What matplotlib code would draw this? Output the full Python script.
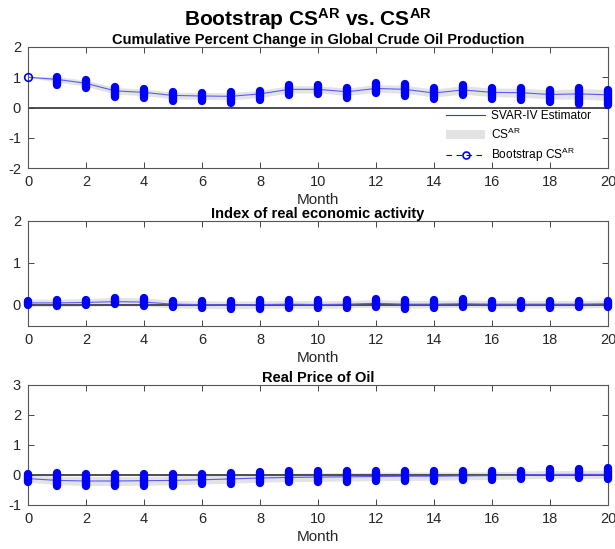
import matplotlib
matplotlib.use("Agg")
import matplotlib.pyplot as plt
from matplotlib.lines import Line2D
from matplotlib.patches import Patch
import numpy as np

plt.rcParams['font.family'] = ['Liberation Sans', 'DejaVu Sans']
plt.rcParams['axes.unicode_minus'] = False
plt.rcParams['mathtext.default'] = 'regular'

months = list(range(21))

# Panel 1: Cumulative Percent Change in Global Crude Oil Production
est1 = [1.0, 0.93, 0.80, 0.55, 0.50, 0.40, 0.38, 0.37, 0.45, 0.60, 0.60, 0.52, 0.63, 0.60, 0.48, 0.58, 0.50, 0.49, 0.43, 0.45, 0.42]
band1_lo = [1.0, 0.84, 0.70, 0.44, 0.39, 0.29, 0.27, 0.25, 0.33, 0.48, 0.48, 0.40, 0.50, 0.47, 0.35, 0.44, 0.36, 0.34, 0.28, 0.28, 0.24]
band1_hi = [1.0, 1.02, 0.90, 0.66, 0.61, 0.51, 0.49, 0.49, 0.57, 0.72, 0.72, 0.64, 0.76, 0.73, 0.61, 0.72, 0.64, 0.64, 0.58, 0.62, 0.60]
boot1_lo = [1.0, 0.74, 0.63, 0.35, 0.33, 0.22, 0.20, 0.14, 0.25, 0.41, 0.43, 0.33, 0.47, 0.39, 0.27, 0.41, 0.27, 0.25, 0.19, 0.13, 0.07]
boot1_hi = [1.0, 1.01, 0.90, 0.68, 0.60, 0.51, 0.49, 0.50, 0.55, 0.73, 0.74, 0.65, 0.81, 0.78, 0.63, 0.76, 0.65, 0.63, 0.58, 0.65, 0.59]

# Panel 2: Index of real economic activity
est2 = [0.05, 0.05, 0.06, 0.08, 0.07, 0.02, 0.01, 0.00, 0.01, 0.02, 0.01, 0.02, 0.04, 0.02, 0.02, 0.03, 0.02, 0.02, 0.02, 0.02, 0.03]
band2_lo = [-0.04, -0.04, -0.03, -0.02, -0.03, -0.07, -0.08, -0.09, -0.08, -0.07, -0.08, -0.07, -0.05, -0.07, -0.07, -0.06, -0.07, -0.07, -0.07, -0.07, -0.06]
band2_hi = [0.14, 0.14, 0.15, 0.18, 0.17, 0.11, 0.10, 0.09, 0.10, 0.11, 0.10, 0.11, 0.13, 0.11, 0.11, 0.12, 0.11, 0.11, 0.11, 0.11, 0.12]
boot2_lo = [0.00, -0.03, 0.00, 0.02, -0.02, -0.05, -0.08, -0.09, -0.09, -0.07, -0.06, -0.06, -0.05, -0.09, -0.06, -0.04, -0.06, -0.07, -0.06, -0.05, -0.05]
boot2_hi = [0.10, 0.13, 0.13, 0.17, 0.16, 0.10, 0.09, 0.09, 0.12, 0.12, 0.11, 0.12, 0.14, 0.11, 0.12, 0.14, 0.09, 0.09, 0.09, 0.09, 0.10]

# Panel 3: Real Price of Oil
est3 = [-0.12, -0.18, -0.20, -0.20, -0.19, -0.18, -0.16, -0.13, -0.10, -0.08, -0.07, -0.06, -0.05, -0.04, -0.04, -0.03, -0.02, 0.00, 0.02, 0.02, 0.02]
band3_lo = [-0.24, -0.32, -0.35, -0.35, -0.34, -0.33, -0.30, -0.27, -0.24, -0.22, -0.21, -0.20, -0.19, -0.18, -0.18, -0.16, -0.15, -0.13, -0.11, -0.11, -0.12]
band3_hi = [0.00, -0.04, -0.05, -0.05, -0.04, -0.03, -0.02, 0.01, 0.04, 0.06, 0.07, 0.08, 0.09, 0.10, 0.10, 0.10, 0.11, 0.13, 0.15, 0.15, 0.16]
boot3_lo = [-0.24, -0.35, -0.38, -0.38, -0.36, -0.36, -0.29, -0.29, -0.25, -0.24, -0.23, -0.24, -0.21, -0.19, -0.20, -0.17, -0.15, -0.13, -0.10, -0.10, -0.13]
boot3_hi = [0.02, 0.08, 0.04, 0.04, 0.02, 0.02, 0.03, 0.07, 0.09, 0.12, 0.14, 0.14, 0.15, 0.15, 0.14, 0.12, 0.12, 0.15, 0.21, 0.21, 0.24]

titles = ['Cumulative Percent Change in Global Crude Oil Production',
          'Index of real economic activity',
          'Real Price of Oil']
ylims = [(-2, 2), (-0.5, 2), (-1, 3)]
yticks = [[-2, -1, 0, 1, 2], [0, 1, 2], [-1, 0, 1, 2, 3]]
xticks = list(range(0, 21, 2))

panels = [
    (est1, band1_lo, band1_hi, boot1_lo, boot1_hi),
    (est2, band2_lo, band2_hi, boot2_lo, boot2_hi),
    (est3, band3_lo, band3_hi, boot3_lo, boot3_hi),
]

fig = plt.figure(figsize=(6.15, 5.49), dpi=100)
W, H = 615, 549
boxes = [(47, 168), (221, 326), (385, 505)]
left_px, right_px = 28, 608

blue = '#0000ff'
estc = '#5a5aff'
axc = '#262626'
for i, (est, blo, bhi, lo, hi) in enumerate(panels):
    top, bot = boxes[i]
    ax = fig.add_axes([left_px / W, 1 - bot / H, (right_px - left_px) / W, (bot - top) / H])
    ax.fill_between(months, blo, bhi, color='#e3e3e3', lw=0, zorder=1)
    ax.axhline(0, color='#404040', lw=1.3, zorder=2)
    ax.plot(months, est, color=estc, lw=0.8, zorder=3)
    for m, a, b in zip(months, lo, hi):
        if abs(b - a) < 1e-9:
            ax.plot([m], [a], 'o', ms=5.5, mfc='none', mec=blue, mew=1.2, zorder=4, clip_on=False)
        else:
            ax.plot([m, m], [a, b], color=blue, lw=6.0, solid_capstyle='round', zorder=4, clip_on=False)
    ax.set_xlim(0, 20)
    ax.set_ylim(*ylims[i])
    ax.set_xticks(xticks)
    ax.set_yticks(yticks[i])
    ax.tick_params(direction='in', top=True, right=True, labelsize=10.5, colors=axc, length=4, width=0.6, pad=5)
    for s in ax.spines.values():
        s.set_color('#555555')
        s.set_linewidth(0.8)
    ax.set_xlabel('Month', fontsize=11, color=axc, labelpad=3)
    ax.set_title(titles[i], fontsize=10.5, fontweight='bold', pad=2)
    if i == 0:
        handles = [
            Line2D([], [], color='#3333ff', lw=0.8),
            Patch(facecolor='#e3e3e3', edgecolor='none'),
            Line2D([], [], color=blue, lw=0.8, ls=(0, (5, 4)), marker='o', mfc='none', mec=blue, ms=5, mew=1.2),
        ]
        labels = ['SVAR-IV Estimator', r'CS$^{AR}$', r'Bootstrap CS$^{AR}$']
        ax.legend(handles, labels, loc='upper left', frameon=False, fontsize=8.6,
                  handlelength=3.3, borderaxespad=0.0, labelspacing=0.38, handletextpad=0.45,
                  borderpad=0.0, bbox_to_anchor=(446 / W, 1 - 110 / H), bbox_transform=fig.transFigure)

fig.text(0.5, 1 - 19 / H, r'Bootstrap CS$^{AR}$ vs. CS$^{AR}$', ha='center', va='center',
         fontsize=15, fontweight='bold')
fig.savefig('out.png', dpi=100)
